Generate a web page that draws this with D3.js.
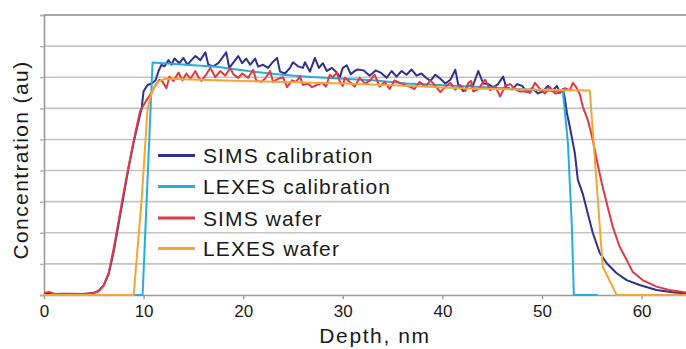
<!DOCTYPE html>
<html>
<head>
<meta charset="utf-8">
<script src="https://cdn.jsdelivr.net/npm/d3@7"></script>
<style>
  body { margin: 0; background: #fff; }
  svg { display: block; font-family: Arial, "Liberation Sans", sans-serif; }
</style>
</head>
<body>
<div class="chart"></div>
<script>
// depth (nm), concentration (au)
var simsCal = [
  [0,0.05],[1,0.03],[2,0.04],[3,0.03],[4,0.04],[4.5,0.05],[5,0.07],[5.5,0.14],[6,0.32],[6.5,0.68],
  [7,1.4],[7.5,2.3],[8,3.2],[8.5,4.1],[9,4.9],[9.5,5.6],[9.8,6.0],[10,6.55],[10.4,6.75],[10.8,6.8],
  [11.2,6.9],[11.5,7.2],[11.8,7.4],[12.1,7.35],[12.5,7.55],[12.8,7.4],[13.1,7.6],[13.6,7.45],[14,7.62],[14.4,7.4],
  [14.8,7.55],[15.2,7.68],[15.7,7.55],[16.2,7.8],[16.5,7.4],[17,7.35],[17.5,7.45],[18.3,7.8],[18.6,7.3],[19.2,7.55],
  [19.5,7.68],[19.9,7.45],[20.3,7.6],[20.7,7.4],[21.2,7.6],[21.5,7.34],[22,7.4],[22.5,7.3],[23,7.5],[23.4,7.62],
  [23.7,7.18],[24.2,7.12],[24.7,7.3],[25,7.48],[25.5,7.35],[26,7.3],[26.2,7.48],[26.7,7.18],[27.2,7.62],[27.6,7.3],
  [28,7.45],[28.4,7.2],[28.9,7.3],[29.4,7.15],[29.7,7.0],[30,7.3],[30.4,7.38],[30.8,7.1],[31.2,7.2],[31.5,7.25],
  [32.1,7.22],[32.7,7.05],[33.3,7.22],[33.8,7.15],[34.4,6.98],[34.9,7.2],[35.4,7.02],[35.9,7.2],[36.4,7.08],[36.9,7.25],
  [37.4,7.05],[37.9,7.12],[38.3,7.0],[38.8,6.88],[39.3,7.08],[39.8,6.95],[40.3,6.8],[40.8,6.92],[41.3,7.24],[41.6,6.75],
  [42.1,6.55],[42.6,6.72],[43.1,6.75],[43.6,7.2],[44.1,6.8],[44.6,6.78],[45.1,6.68],[45.6,6.78],[46.1,7.02],[46.4,6.68],
  [47,6.6],[47.5,6.78],[48,6.72],[48.5,6.52],[49,6.65],[49.6,6.48],[50.1,6.55],[50.6,6.72],[51,6.55],[51.5,6.72],
  [51.8,6.5],[52.1,6.62],[52.3,6.32],[52.5,5.85],[52.8,5.4],[53.3,4.56],[53.6,3.7],[54.1,3.25],[54.6,2.62],[55.1,2.0],
  [55.8,1.35],[56.5,1.02],[57.5,0.7],[58.5,0.48],[59.8,0.32],[61.5,0.16],[63.1,0.09],[64.5,0.05],[65,0.05]
];

var lexesCal = [
  [0,0],[9.9,0],[10.9,7.47],[17.3,7.34],[20.5,7.2],[23.9,7.08],[27.2,7.0],[33,6.9],[36.4,6.8],[39.8,6.75],
  [49,6.6],[52.1,6.54],[52.6,4.9],[53,2.2],[53.2,0],[55.6,0]
];

var simsWafer = [
  [0,0.06],[0.5,0.1],[1,0.04],[2,0.03],[3,0.04],[4,0.03],[4.5,0.05],[5,0.06],[5.5,0.12],[6,0.3],
  [6.5,0.72],[7,1.5],[7.5,2.4],[8,3.3],[8.5,4.15],[9,4.95],[9.3,5.4],[9.64,5.9],[10,6.1],[10.3,6.27],
  [10.8,6.5],[11.1,6.7],[11.6,6.92],[11.9,6.85],[12.3,6.65],[12.6,7.02],[13,6.88],[13.5,7.15],[13.9,6.9],[14.3,7.12],
  [14.7,6.95],[15.2,7.2],[15.5,7.0],[15.8,6.88],[16.2,7.05],[16.7,7.3],[17.2,7.0],[17.7,7.2],[18.2,7.05],[18.7,7.3],
  [19,7.1],[19.5,6.98],[19.9,7.12],[20.5,6.98],[21,7.24],[21.3,6.9],[21.8,6.85],[22.2,6.95],[22.7,7.2],[23,6.85],
  [23.5,6.95],[24,7.0],[24.4,6.68],[24.9,6.9],[25.3,6.85],[25.7,7.02],[26,6.75],[26.5,6.8],[26.9,6.68],[27.4,6.75],
  [27.9,6.82],[28.3,6.7],[28.7,7.08],[29,7.0],[29.4,7.15],[29.7,6.86],[30,6.72],[30.2,6.98],[30.7,6.85],[31.2,6.7],
  [31.7,6.98],[32.2,6.8],[32.7,6.88],[33.2,7.08],[33.7,6.7],[34.2,6.85],[34.7,6.62],[35.2,6.9],[35.7,6.82],[36.2,6.75],
  [36.7,6.7],[37.2,6.62],[37.7,6.85],[38.3,6.7],[38.8,6.9],[39.3,6.72],[39.8,6.52],[40.3,6.7],[40.8,6.82],[41.3,6.6],
  [41.8,6.75],[42.3,6.55],[42.6,6.82],[42.9,6.88],[43.1,6.54],[43.6,6.62],[44.3,6.92],[44.8,6.58],[45.3,6.72],[45.8,6.38],
  [46.3,6.72],[46.8,6.78],[47.3,6.62],[47.8,6.54],[48.3,6.55],[48.8,6.5],[49.3,6.82],[49.8,6.62],[50.3,6.48],[50.8,6.68],
  [51.3,6.48],[51.8,6.5],[52.3,6.65],[52.8,6.58],[53.1,6.82],[53.4,6.7],[53.8,6.45],[54.1,6.05],[54.6,5.63],[55.1,4.98],
  [55.5,4.34],[56,3.6],[56.5,2.95],[57.1,2.2],[57.8,1.55],[58.5,1.13],[59.1,0.75],[60.1,0.48],[61.5,0.27],[62.8,0.16],
  [64.5,0.08],[65,0.07]
];

var lexesWafer = [
  [0,0],[9.0,0],[9.8,3.05],[10.4,6.0],[10.9,6.6],[11.5,6.86],[12.2,6.95],[20,6.88],[30,6.8],[37,6.72],
  [42.3,6.64],[54.8,6.57],[56.1,0.91],[57.5,0],[65,0]
];

var seriesNames = ['SIMS calibration', 'LEXES calibration', 'SIMS wafer', 'LEXES wafer'];
var seriesColors = ['#2e3192', '#29abe2', '#e03a44', '#f7a535'];
var seriesData = [simsCal, lexesCal, simsWafer, lexesWafer];

var xTicks = [0, 10, 20, 30, 40, 50, 60];
var yTicks = [0, 1, 2, 3, 4, 5, 6, 7, 8, 9];

var margin = { top: 15, right: 0, bottom: 54, left: 44 };
var width = 686 - margin.left - margin.right;
var height = 349 - margin.top - margin.bottom;

var svg = d3.select('.chart')
  .append('svg')
  .attr('width', 686)
  .attr('height', 349)
  .append('g')
  .attr('transform', 'translate(' + margin.left + ',' + margin.top + ')');

var xScale = d3.scaleLinear()
  .domain([0, 64.5])
  .range([0, width + 0.4]);

var yScale = d3.scaleLinear()
  .domain([0, 9])
  .range([height, 0]);

// grid lines
svg.selectAll('.grid')
  .data(yTicks.slice(1))
  .enter()
  .append('line')
  .attr('class', 'grid')
  .attr('x1', 0)
  .attr('x2', width)
  .attr('y1', d => yScale(d))
  .attr('y2', d => yScale(d))
  .style('stroke', d => d === 9 ? '#8c8c8c' : '#c4c4c4')
  .style('stroke-width', 1.6);

// y axis, no labels
var yAxis = svg.append('g')
  .attr('class', 'yAxis')
  .call(d3.axisLeft(yScale).tickValues(yTicks).tickSize(4).tickFormat(''));
yAxis.select('.domain').style('stroke', '#9a9a9a').style('stroke-width', 1.6);
yAxis.selectAll('.tick line').style('stroke', '#b0b0b0').style('stroke-width', 1.4);

// x axis
var xAxis = svg.append('g')
  .attr('transform', 'translate(0,' + height + ')')
  .call(d3.axisBottom(xScale).tickValues(xTicks).tickSize(4).tickSizeOuter(0).tickPadding(6));
xAxis.select('.domain').style('stroke', '#9a9a9a').style('stroke-width', 1.6);
xAxis.selectAll('.tick line').style('stroke', '#9a9a9a').style('stroke-width', 1.4);
xAxis.selectAll('.tick text')
  .style('font-size', '17px')
  .style('font-family', 'Arial, "Liberation Sans", sans-serif')
  .style('fill', '#1a1a1a');

// series lines
var line = d3.line()
  .x(d => xScale(d[0]))
  .y(d => yScale(d[1]));

svg.append('clipPath')
  .attr('id', 'clip')
  .append('rect')
  .attr('x', 0)
  .attr('y', -5)
  .attr('width', width + 1)
  .attr('height', height + 10);

svg.selectAll('.line')
  .data(seriesData)
  .enter()
  .append('path')
  .attr('class', 'line')
  .attr('clip-path', 'url(#clip)')
  .attr('d', d => line(d))
  .style('stroke', (d, i) => seriesColors[i])
  .style('stroke-width', 2)
  .style('fill', 'none')
  .style('stroke-linejoin', 'round');

// legend (row centres in page pixels)
var legendRows = [155.5, 186.5, 218, 248.5];
var legend = svg.selectAll('.legend')
  .data(seriesNames)
  .enter()
  .append('g')
  .attr('class', 'legend')
  .attr('transform', (d, i) => 'translate(0,' + (legendRows[i] - margin.top) + ')');

legend.append('line')
  .attr('x1', 158 - margin.left)
  .attr('x2', 195 - margin.left)
  .attr('y1', 0)
  .attr('y2', 0)
  .style('stroke', (d, i) => seriesColors[i])
  .style('stroke-width', 3);

legend.append('text')
  .attr('x', 203 - margin.left)
  .attr('y', 7.5)
  .style('font-size', '21px')
  .style('letter-spacing', '1.1px')
  .style('fill', '#1a1a1a')
  .text(d => d);

// axis titles
svg.append('text')
  .attr('x', 375 - margin.left)
  .attr('y', 343 - margin.top)
  .style('text-anchor', 'middle')
  .style('font-size', '21px')
  .style('letter-spacing', '1.6px')
  .style('fill', '#1a1a1a')
  .text('Depth, nm');

svg.append('text')
  .attr('transform', 'translate(' + (28 - margin.left) + ',' + (160 - margin.top) + ') rotate(-90)')
  .style('text-anchor', 'middle')
  .style('font-size', '21px')
  .style('letter-spacing', '1.4px')
  .style('fill', '#1a1a1a')
  .text('Concentration (au)');
</script>
</body>
</html>
